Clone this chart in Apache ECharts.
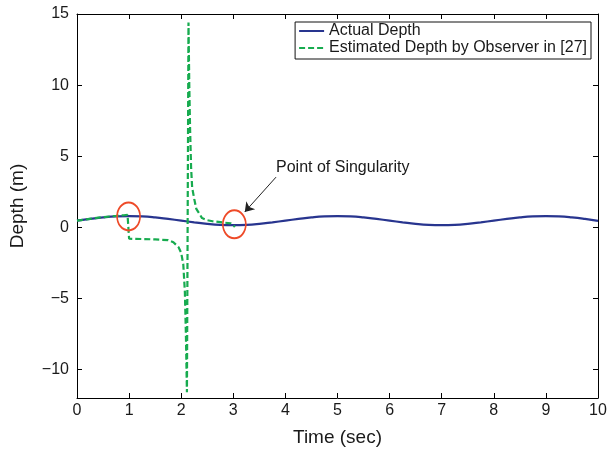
<!DOCTYPE html>
<html>
<head>
<meta charset="utf-8">
<script src="https://cdn.jsdelivr.net/npm/echarts@6/dist/echarts.min.js"></script>
<style>
  html, body { margin: 0; padding: 0; background: #fff; }
  #chart { width: 610px; height: 458px; }
</style>
</head>
<body>
<div id="chart"></div>
<script>
// actual depth, sampled every 0.25 s
const timeActual = [0, 0.25, 0.5, 0.75, 1, 1.25, 1.5, 1.75, 2, 2.25, 2.5, 2.75, 3, 3.25, 3.5, 3.75,
  4, 4.25, 4.5, 4.75, 5, 5.25, 5.5, 5.75, 6, 6.25, 6.5, 6.75, 7, 7.25, 7.5, 7.75,
  8, 8.25, 8.5, 8.75, 9, 9.25, 9.5, 9.75, 10]
const depthActual = [0.47, 0.59, 0.70, 0.77, 0.79, 0.77, 0.70, 0.59, 0.47, 0.35, 0.24, 0.17, 0.15, 0.17, 0.24, 0.35,
  0.47, 0.59, 0.70, 0.77, 0.79, 0.77, 0.70, 0.59, 0.47, 0.35, 0.24, 0.17, 0.15, 0.17, 0.24, 0.35,
  0.47, 0.59, 0.70, 0.77, 0.79, 0.77, 0.70, 0.59, 0.45]

// estimated depth by the observer (stops near t = 3)
const timeEst = [0, 0.25, 0.5, 0.75, 0.9, 0.97, 0.99, 1.0, 1.25, 1.5, 1.75, 1.85, 1.95, 2.0, 2.04, 2.07, 2.09, 2.11,
  2.14, 2.155, 2.17, 2.19, 2.21, 2.25, 2.29, 2.35, 2.4, 2.5, 2.6, 2.8, 2.95, 3.0, 3.03]
const depthEst = [0.47, 0.6, 0.72, 0.8, 0.85, 0.88, 0.88, -0.8, -0.82, -0.85, -0.9, -1.05, -1.4, -1.8, -2.6, -4.5, -7.5, -11.6,
  14.4, 10, 7, 4.2, 2.8, 2.0, 1.3, 0.95, 0.65, 0.5, 0.43, 0.34, 0.28, 0.15, 0.03]

// annotation positions (data coords)
const circleMarks = [[0.99, 0.77], [3.02, 0.21]]
const arrowFrom = [3.82, 3.53]
const arrowTo = [3.22, 1.08]
const notePos = [3.82, 4.21]
const noteText = 'Point of Singularity'

const yTicks = [-10, -5, 0, 5, 10, 15]

const font = '"Liberation Sans", Arial, sans-serif'
const ink = '#1a1a1a'

const chart = echarts.init(document.getElementById('chart'))

const pair = (xs, ys) => xs.map((x, i) => [x, ys[i]])
const minus = v => (v < 0 ? '\u2212' + Math.abs(v) : String(v))

const axisCommon = {
  axisLine: { show: true, onZero: false, lineStyle: { color: '#000', width: 1 } },
  axisTick: { show: true, inside: true, length: 5, lineStyle: { color: '#000' } },
  splitLine: { show: false }
}

const option = {
  backgroundColor: '#fff',
  animation: false,
  grid: { left: 75, right: 12, top: 14, bottom: 60 },
  legend: {
    data: ['Actual Depth', 'Estimated Depth by Observer in [27]'],
    orient: 'vertical',
    right: 19,
    top: 22,
    padding: [1, 4, 3, 3],
    itemGap: 1,
    itemWidth: 25,
    itemHeight: 10,
    borderColor: '#111',
    borderWidth: 1,
    backgroundColor: '#fff',
    itemStyle: { opacity: 0 },
    textStyle: { fontFamily: font, fontSize: 16, color: ink, lineHeight: 16 }
  },
  xAxis: [
    {
      type: 'value', min: 0, max: 10, interval: 1, position: 'bottom',
      ...axisCommon,
      axisLabel: { fontFamily: font, fontSize: 16, color: ink, margin: 5 },
      name: 'Time (sec)', nameLocation: 'middle', nameGap: 30,
      nameTextStyle: { fontFamily: font, fontSize: 19, color: ink }
    },
    {
      type: 'value', min: 0, max: 10, interval: 1, position: 'top',
      ...axisCommon,
      axisLabel: { show: false }
    }
  ],
  yAxis: [
    {
      type: 'value', min: -12, max: 15, position: 'left',
      ...axisCommon,
      axisTick: { ...axisCommon.axisTick, customValues: yTicks },
      axisLabel: { fontFamily: font, fontSize: 16, color: ink, margin: 8, customValues: yTicks, formatter: minus },
      name: 'Depth (m)', nameLocation: 'middle', nameGap: 50,
      nameTextStyle: { fontFamily: font, fontSize: 19, color: ink }
    },
    {
      type: 'value', min: -12, max: 15, position: 'right',
      ...axisCommon,
      axisTick: { ...axisCommon.axisTick, customValues: yTicks },
      axisLabel: { show: false }
    }
  ],
  series: [
    {
      name: 'Actual Depth',
      type: 'line',
      data: pair(timeActual, depthActual),
      symbol: 'none',
      smooth: true,
      lineStyle: { color: '#28358f', width: 2.2 },
      itemStyle: { color: '#28358f' },
      z: 3
    },
    {
      name: 'Estimated Depth by Observer in [27]',
      type: 'line',
      data: pair(timeEst, depthEst),
      symbol: 'none',
      lineStyle: { color: '#17ab4f', width: 2.2, type: [6, 3] },
      itemStyle: { color: '#17ab4f' },
      z: 4
    },
    {
      name: 'circles',
      type: 'scatter',
      data: circleMarks,
      symbol: 'circle',
      symbolSize: [23, 28],
      itemStyle: { color: 'rgba(0,0,0,0)', borderColor: '#ee4a28', borderWidth: 1.8, opacity: 1 },
      z: 5
    },
    {
      name: 'arrow',
      type: 'lines',
      coordinateSystem: 'cartesian2d',
      data: [{ coords: [arrowFrom, arrowTo] }],
      symbol: ['none', 'arrow'],
      symbolSize: [0, 9],
      lineStyle: { color: '#222', width: 1, opacity: 1 },
      z: 6
    },
    {
      name: 'note',
      type: 'scatter',
      data: [notePos],
      symbolSize: 0,
      itemStyle: { opacity: 1 },
      label: {
        show: true, position: 'right', distance: 0,
        formatter: noteText,
        fontFamily: font, fontSize: 16, color: ink
      },
      z: 6
    }
  ]
}

chart.setOption(option)
</script>
</body>
</html>
